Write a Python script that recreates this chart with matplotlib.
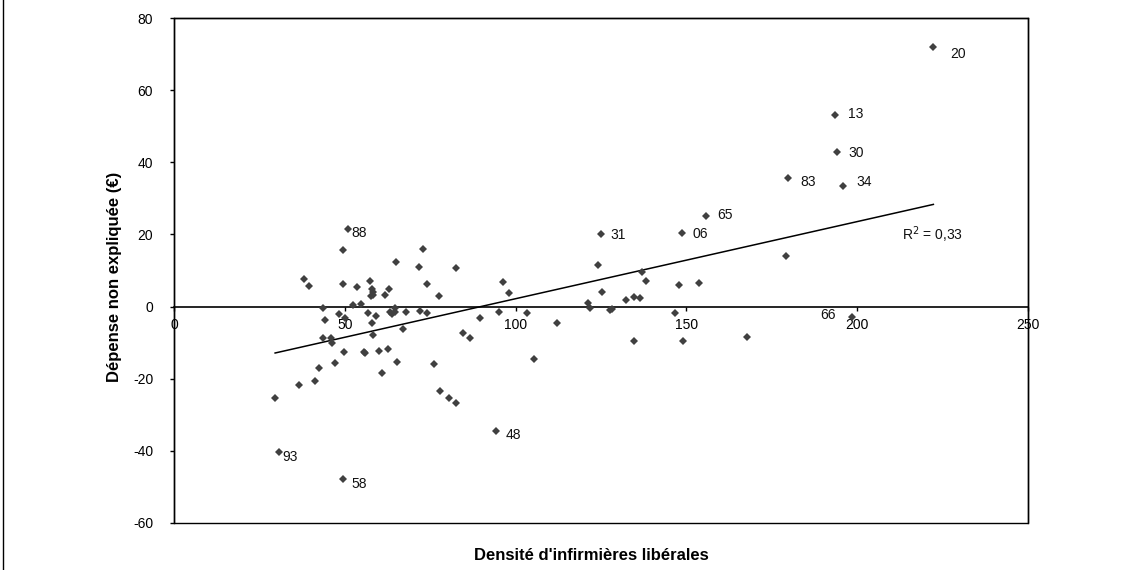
import numpy as np
import matplotlib
matplotlib.use("Agg")
import matplotlib.pyplot as plt
from matplotlib.patches import Rectangle
from matplotlib.font_manager import FontProperties

plt.rcParams['font.family'] = ['Liberation Sans', 'DejaVu Sans']
plt.rcParams['axes.unicode_minus'] = False

# densité d'infirmières libérales (x) / dépense non expliquée en euros (y)
densite = [222.3, 193.6, 194.2, 179.8, 195.7, 155.7, 179.1, 198.4, 153.6,
           125.0, 148.7, 124.0, 136.9, 138.3, 147.8, 125.3, 121.1, 121.9,
           127.6, 128.2, 132.3, 134.6, 136.5, 146.7, 134.6, 149.1, 167.6,
           82.6, 96.4, 98.0, 95.2, 103.2, 89.6, 112.1, 84.5, 86.7, 105.5,
           78.0, 80.4, 77.7, 94.3,
           51.0, 49.6, 72.8, 65.1, 71.8, 38.2, 39.4, 49.4, 53.6, 57.3,
           57.9, 58.3, 57.7, 58.2, 63.0, 61.7, 74.1, 52.4, 54.7, 43.6,
           48.3, 50.0, 44.1, 56.9, 59.0, 58.0, 63.2, 63.7, 64.7, 64.8,
           67.9, 72.1, 74.0, 66.9, 58.4, 43.7, 45.9, 46.3, 49.7, 55.5,
           55.8, 59.9, 62.6, 65.4, 47.1, 42.5, 60.8, 76.2, 36.5, 41.4,
           29.6, 82.6, 30.8, 49.4]
depense = [72.0, 53.1, 42.8, 35.7, 33.4, 25.2, 13.9, -2.8, 6.5,
           20.1, 20.5, 11.4, 9.6, 7.2, 6.0, 4.0, 1.0, -0.5,
           -0.9, -0.6, 1.9, 2.7, 2.5, -1.8, -9.6, -9.6, -8.5,
           10.7, 6.8, 3.9, -1.6, -1.7, -3.2, -4.6, -7.4, -8.6, -14.6,
           -23.3, -25.4, 3.0, -34.5,
           21.4, 15.6, 16.0, 12.4, 11.1, 7.7, 5.7, 6.2, 5.4, 7.0,
           4.8, 4.1, 2.9, 3.3, 5.0, 3.3, 6.2, 0.5, 0.7, -0.5,
           -2.1, -3.1, -3.7, -1.9, -2.7, -4.6, -1.6, -2.1, -0.3, -1.5,
           -1.4, -1.1, -1.8, -6.1, -7.9, -8.6, -8.6, -10.2, -12.6, -12.5,
           -12.8, -12.2, -11.8, -15.4, -15.6, -16.9, -18.4, -16.0, -21.8, -20.7,
           -25.3, -26.8, -40.2, -47.7]

# départements annotés
dep_labels = ['20', '13', '30', '83', '34', '65', '06', '31', '88', '93', '58', '48', '66']
dep_x = [222.3, 193.6, 194.2, 179.8, 195.7, 155.7, 148.7, 125.0, 51.0, 30.8, 49.4, 94.3, 198.4]
dep_y = [72.0, 53.1, 42.8, 35.7, 33.4, 25.2, 20.5, 20.1, 21.4, -40.2, -47.7, -34.5, -2.8]

r2_text = 'R$^2$ = 0,33'
x_ticks = [0, 50, 100, 150, 200, 250]
y_ticks = [-60, -40, -20, 0, 20, 40, 60, 80]

# label offsets in pixels (dx, dy)
offsets = {'20': (17, -7), '13': (13, 1), '30': (11, -1), '83': (12, -4),
           '34': (14, 4), '65': (11, 1), '06': (11, -1), '31': (9, -1),
           '88': (3, -4), '93': (3, -5), '58': (9, -5), '48': (9, -4),
           '66': (-31, 2)}

fig = plt.figure(figsize=(11.27, 5.70), dpi=100)
ax = fig.add_axes([174 / 1127, 1 - 523 / 570, (1028 - 174) / 1127, (523 - 18) / 570])

ax.plot(densite, depense, linestyle='none', marker='D', markersize=4.0,
        markeredgewidth=0, color='#404040', zorder=3)

# droite de tendance
coef = np.polyfit(densite, depense, 1)
xs = np.array([min(densite), max(densite)])
ax.plot(xs, np.polyval(coef, xs), color='black', linewidth=1.1, zorder=2)

for lab, x, y in zip(dep_labels, dep_x, dep_y):
    dx, dy = offsets[lab]
    ax.annotate(lab, (x, y), xytext=(dx, dy), textcoords='offset pixels',
                fontsize=10, ha='left', va='center', color='#111111')

ax.text(213, 20, r2_text, fontsize=10, ha='left', va='center', color='#111111')

ax.set_xlim(0, 250)
ax.set_ylim(-60, 80)
ax.set_xticks(x_ticks)
ax.set_yticks(y_ticks)
ax.tick_params(axis='y', labelsize=10, pad=12, length=3, width=1, direction='out')
ax.tick_params(axis='x', length=3, width=1, direction='out', pad=5)
italic_fp = FontProperties(family='Liberation Sans', style='italic', size=10)
ax.set_xticklabels([str(t) for t in x_ticks], fontproperties=italic_fp)

ax.spines['bottom'].set_position(('data', 0))
ax.spines['bottom'].set_linewidth(1.2)
for s in ['top', 'right', 'left']:
    ax.spines[s].set_linewidth(1.0)
ax.add_patch(Rectangle((0, 0), 1, 1, transform=ax.transAxes, fill=False,
                       linewidth=1.0, edgecolor='black', clip_on=False, zorder=4))

fig.text(114 / 1127, 1 - 277 / 570, 'Dépense non expliquée (€)', rotation=90,
         fontsize=12, fontweight='bold', ha='center', va='center')
fig.text(591 / 1127, 1 - 555 / 570, "Densité d'infirmières libérales",
         fontsize=12, fontweight='bold', ha='center', va='center')

# bord gauche du cadre du graphique
fig.add_artist(plt.Line2D([3.5 / 1127, 3.5 / 1127], [0, 1], color='black',
                          linewidth=1.0, transform=fig.transFigure))

fig.savefig('out.png', dpi=100)
